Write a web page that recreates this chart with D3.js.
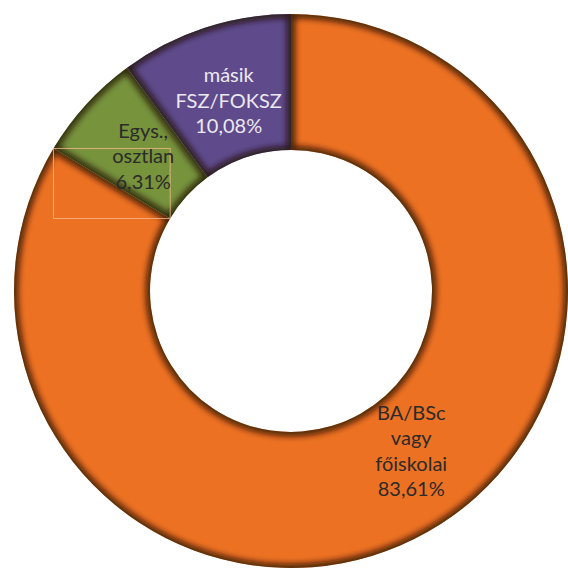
<!DOCTYPE html>
<html>
<head>
<meta charset="utf-8">
<script src="https://cdn.jsdelivr.net/npm/d3@7"></script>
<style>
  body { margin: 0; background: #fff; }
  svg { display: block; }
</style>
</head>
<body>
<svg width="568" height="572"></svg>
<script>
// slices of the donut, clockwise from 12 o'clock
var categories = [["BA/BSc", "vagy", "főiskolai"], ["Egys.,", "osztlan"], ["másik", "FSZ/FOKSZ"]];
var values = [83.61, 6.31, 10.08];
var valueLabels = ["83,61%", "6,31%", "10,08%"];
var colors = ["#ed7122", "#77933c", "#5f4b8b"];
var textColors = ["#2b2b2b", "#2b2b2b", "#ece8f2"];

var width = 568, height = 572;
var cx = 291, cy = 291;
var outerR = 277, innerR = 141;

var svg = d3.select("svg");

var pie = d3.pie().sort(null).value(function (d) { return d; });
var arc = d3.arc().innerRadius(innerR).outerRadius(outerR);
var labelR = 200;

var arcs = pie(values);

var defs = svg.append("defs");
var blur = defs.append("filter").attr("id", "soft")
    .attr("x", "-10%").attr("y", "-10%").attr("width", "120%").attr("height", "120%");
blur.append("feGaussianBlur").attr("stdDeviation", 3);

var g = svg.append("g").attr("transform", "translate(" + cx + "," + cy + ")");

// each slice gets a clip so a blurred dark edge can sit just inside it (bevel look)
arcs.forEach(function (d, i) {
    defs.append("clipPath").attr("id", "clip" + i)
        .append("path")
        .attr("transform", "translate(" + cx + "," + cy + ")")
        .attr("d", arc(d));
});

var slices = g.selectAll("g.slice")
    .data(arcs)
    .enter().append("g")
    .attr("class", "slice");

slices.append("path")
    .attr("d", arc)
    .attr("fill", function (d, i) { return colors[i]; });

slices.append("g")
    .attr("clip-path", function (d, i) { return "url(#clip" + i + ")"; })
    .attr("transform", "translate(" + (-cx) + "," + (-cy) + ")")
    .append("path")
    .attr("transform", "translate(" + cx + "," + cy + ")")
    .attr("d", arc)
    .attr("fill", "none")
    .attr("stroke", "#1e0b00")
    .attr("stroke-opacity", 0.85)
    .attr("stroke-width", 8)
    .attr("filter", "url(#soft)");

// faint box left over around the orange / green border line
var a = arcs[0].endAngle;
var p1 = [outerR * Math.sin(a), -outerR * Math.cos(a)];
var p2 = [innerR * Math.sin(a), -innerR * Math.cos(a)];
g.append("rect")
    .attr("x", Math.min(p1[0], p2[0]))
    .attr("y", Math.min(p1[1], p2[1]))
    .attr("width", Math.abs(p2[0] - p1[0]))
    .attr("height", Math.abs(p2[1] - p1[1]))
    .attr("fill", "none")
    .attr("stroke", "#f7b98a")
    .attr("stroke-width", 0.8);

// labels
var lineH = 25.5;
var labels = g.selectAll("text.lbl")
    .data(arcs)
    .enter().append("text")
    .attr("class", "lbl")
    .attr("text-anchor", "middle")
    .attr("font-family", "Lato, 'Open Sans', sans-serif")
    .attr("font-size", "20px")
    .attr("fill", function (d, i) { return textColors[i]; })
    .attr("transform", function (d) {
        var ang = (d.startAngle + d.endAngle) / 2;
        // big slice: label sits a bit towards its start, as in the original
        if (d.endAngle - d.startAngle > Math.PI) ang -= 0.13;
        return "translate(" + (labelR * Math.sin(ang)) + "," + (-labelR * Math.cos(ang)) + ")";
    });

labels.each(function (d, i) {
    var lines = categories[i].concat([valueLabels[i]]);
    var t = d3.select(this);
    var y0 = -(lines.length - 1) * lineH / 2;
    lines.forEach(function (s, k) {
        t.append("tspan")
            .attr("x", 0)
            .attr("y", y0 + k * lineH)
            .attr("dy", "0.35em")
            .text(s);
    });
});
</script>
</body>
</html>
